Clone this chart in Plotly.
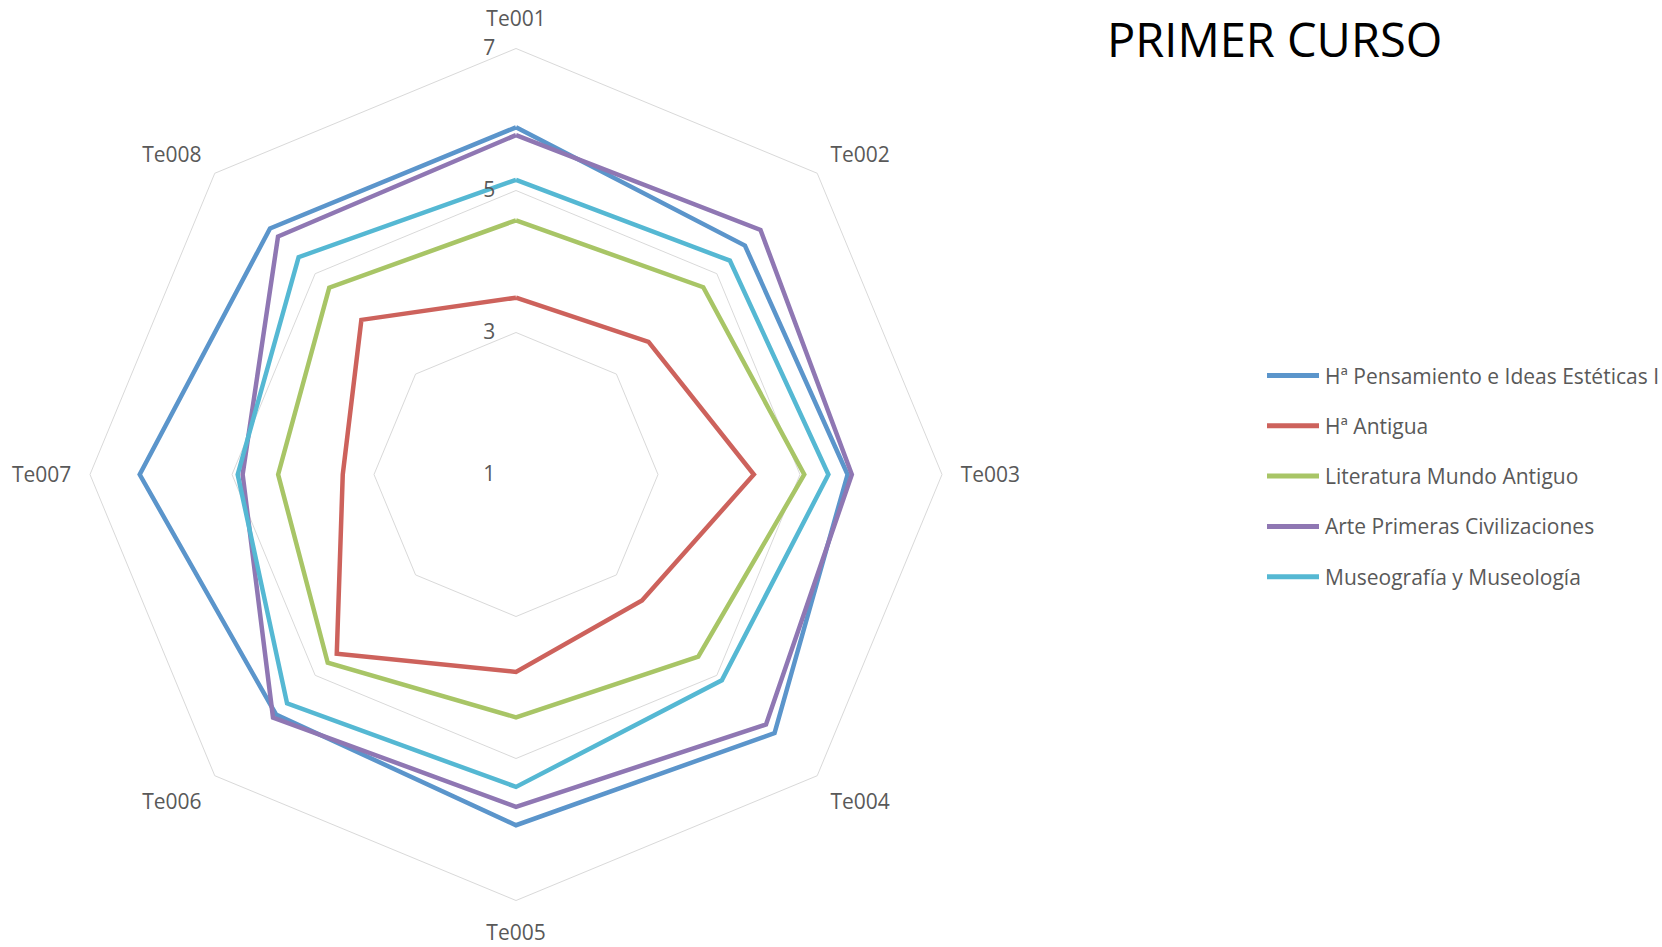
import plotly.graph_objects as go

# ---- data ----
categories = ["Te001", "Te002", "Te003", "Te004", "Te005", "Te006", "Te007", "Te008"]
series_names = [
    "Hª Pensamiento e Ideas Estéticas I",
    "Hª Antigua",
    "Literatura Mundo Antiguo",
    "Arte Primeras Civilizaciones",
    "Museografía y Museología",
]
pensamiento = [5.89, 5.56, 5.67, 6.15, 5.94, 5.78, 6.30, 5.90]
antigua = [3.49, 3.64, 4.35, 3.51, 3.78, 4.57, 3.44, 4.08]
literatura = [4.58, 4.73, 5.06, 4.63, 4.42, 4.75, 4.35, 4.72]
arte = [5.78, 5.87, 5.73, 5.98, 5.68, 5.84, 4.85, 5.74]
museografia = [5.15, 5.26, 5.40, 5.10, 5.40, 5.56, 4.92, 5.33]
radial_ticks = [1, 3, 5, 7]
title_text = "PRIMER CURSO"

series_values = [pensamiento, antigua, literatura, arte, museografia]
colors = ["#5B95CB", "#CD625C", "#A8C566", "#8F77B3", "#55B8D3"]

W, H = 1662, 947
cx, cy, R = 516, 474.5, 426
FONT = "Open Sans"
GREY = "#595959"
FS = 21


def px(x):
    return x / W


def py(y):
    return 1 - y / H


fig = go.Figure()
for name, vals, col in zip(series_names, series_values, colors):
    fig.add_trace(go.Scatterpolar(
        r=vals + vals[:1],
        theta=categories + categories[:1],
        mode="lines",
        name=name,
        line=dict(color=col, width=4.5),
        showlegend=False,
    ))

fig.update_layout(
    width=W, height=H,
    paper_bgcolor="white",
    margin=dict(l=0, r=0, t=0, b=0),
    font=dict(family=FONT, color=GREY, size=FS),
    polar=dict(
        domain=dict(x=[(cx - R) / W, (cx + R) / W], y=[(H - cy - R) / H, (H - cy + R) / H]),
        bgcolor="white",
        gridshape="linear",
        radialaxis=dict(
            range=[1, 7],
            tickvals=radial_ticks,
            ticktext=[str(t) for t in radial_ticks],
            angle=90,
            side="counterclockwise",
            tickangle=90,
            showline=False,
            ticks="outside",
            ticklen=13,
            tickcolor="rgba(0,0,0,0)",
            gridcolor="#D9D9D9",
            gridwidth=1,
            tickfont=dict(family=FONT, size=FS, color=GREY),
        ),
        angularaxis=dict(
            direction="clockwise",
            rotation=90,
            showgrid=False,
            showline=True,
            linecolor="#D9D9D9",
            linewidth=1,
            ticks="outside",
            ticklen=14,
            tickcolor="rgba(0,0,0,0)",
            tickfont=dict(family=FONT, size=FS, color=GREY),
        ),
    ),
)

# title
fig.add_annotation(
    text=title_text, x=px(1274), y=py(39), xref="paper", yref="paper",
    xanchor="center", yanchor="middle", showarrow=False,
    font=dict(family=FONT, size=47, color="black"),
)

# custom legend
leg_y0, leg_dy = 375.5, 50.3
for i, (name, col) in enumerate(zip(series_names, colors)):
    y = leg_y0 + i * leg_dy
    fig.add_shape(
        type="line", xref="paper", yref="paper",
        x0=px(1267), x1=px(1319), y0=py(y), y1=py(y),
        line=dict(color=col, width=5),
    )
    fig.add_annotation(
        text=name, x=px(1323), y=py(y), xref="paper", yref="paper",
        xanchor="left", yanchor="middle", showarrow=False,
        font=dict(family=FONT, size=FS, color=GREY),
    )

fig.write_html(
    "out.html",
    config={"displayModeBar": False},
    post_script="document.body.style.margin='0';",
)
